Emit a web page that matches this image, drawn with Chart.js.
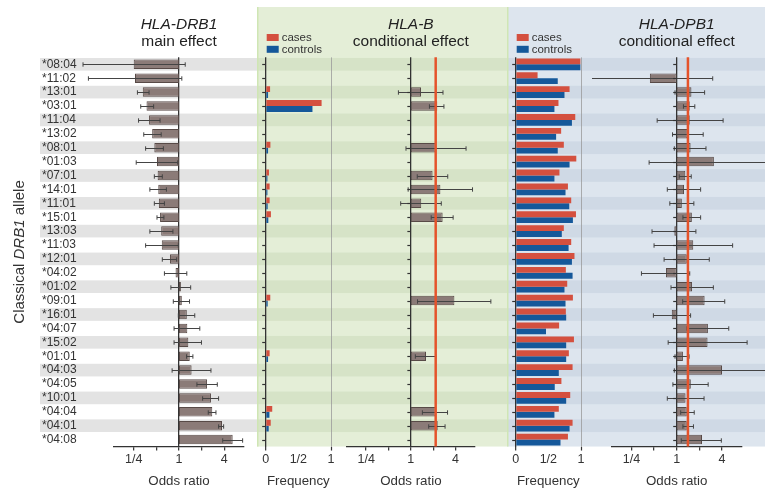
<!DOCTYPE html>
<html>
<head>
<meta charset="utf-8">
<script src="https://cdn.jsdelivr.net/npm/chart.js@4.4.1/dist/chart.umd.min.js"></script>
<style>
  html, body { margin: 0; padding: 0; background: #fff; }
  #wrap { position: relative; width: 765px; height: 491px; overflow: hidden; }
  #wrap canvas { position: absolute; top: 0; }
</style>
</head>
<body>
<div id="wrap">
  <canvas id="drb1" width="257" height="491" style="left:0"></canvas>
  <canvas id="bFreq" width="81" height="491" style="left:257px"></canvas>
  <canvas id="bOdds" width="169" height="491" style="left:338px"></canvas>
  <canvas id="dpFreq" width="85" height="491" style="left:507px"></canvas>
  <canvas id="dpOdds" width="173" height="491" style="left:592px"></canvas>
</div>
<script>
const alleles = ['*08:04', '*11:02', '*13:01', '*03:01', '*11:04', '*13:02', '*08:01', '*01:03', '*07:01', '*14:01',
  '*11:01', '*15:01', '*13:03', '*11:03', '*12:01', '*04:02', '*01:02', '*09:01', '*16:01', '*04:07',
  '*15:02', '*01:01', '*04:03', '*04:05', '*10:01', '*04:04', '*04:01', '*04:08'];

// HLA-DRB1 main effect: odds ratio with 95% CI
const drb1OR = [0.25, 0.26, 0.33, 0.37, 0.40, 0.44, 0.47, 0.51, 0.52, 0.53, 0.54, 0.56, 0.58, 0.59,
  0.76, 0.90, 1.06, 1.09, 1.27, 1.29, 1.33, 1.39, 1.47, 2.36, 2.66, 2.77, 3.73, 5.17];
const drb1Lo = [0.053, 0.0625, 0.28, 0.31, 0.29, 0.34, 0.36, 0.27, 0.47, 0.41, 0.47, 0.51, 0.41, 0.36,
  0.60, 0.64, 0.78, 0.84, 0.98, 0.86, 0.86, 1.26, 0.81, 1.73, 2.06, 2.45, 3.36, 3.81];
const drb1Hi = [1.21, 1.09, 0.40, 0.46, 0.56, 0.58, 0.62, 0.96, 0.60, 0.68, 0.64, 0.63, 0.83, 0.98,
  0.93, 1.27, 1.43, 1.38, 1.62, 1.89, 1.99, 1.53, 2.66, 3.23, 3.36, 3.10, 3.92, 7.01];

// HLA-B: frequency in cases / controls and conditional odds ratio
const bCases = [null, null, 0.067, 0.856, null, null, 0.072, null, 0.05, 0.06, 0.06, 0.08, null, null,
  null, null, null, 0.07, null, null, null, 0.06, null, null, null, 0.10, 0.077, null];
const bControls = [null, null, 0.036, 0.716, null, null, 0.036, null, 0.026, 0.026, 0.03, 0.04, null, null,
  null, null, null, 0.03, null, null, null, 0.036, null, null, null, 0.057, 0.046, null];
const bOR = [null, null, 1.37, 2.27, null, null, 2.16, null, 1.96, 2.50, 1.38, 2.68, null, null,
  null, null, null, 3.86, null, null, null, 1.60, null, null, null, 2.16, 2.30, null];
const bLo = [null, null, 0.68, 1.78, null, null, 0.86, null, 1.22, 0.92, 0.73, 1.88, null, null,
  null, null, null, 1.23, null, null, null, 1.15, null, null, null, 1.43, 1.74, null];
const bHi = [null, null, 2.71, 2.79, null, null, 5.54, null, 3.14, 6.77, 2.57, 3.71, null, null,
  null, null, null, 11.96, null, null, null, 2.17, null, null, null, 3.12, 2.89, null];
const bRefOR = 2.16;

// HLA-DPB1: frequency in cases / controls and conditional odds ratio
const dpCases = [0.99, 0.335, 0.825, 0.655, 0.912, 0.696, 0.737, 0.928, 0.67, 0.80, 0.85, 0.923, 0.737, 0.85,
  0.90, 0.768, 0.789, 0.876, 0.768, 0.665, 0.892, 0.814, 0.871, 0.70, 0.835, 0.66, 0.871, 0.80];
const dpControls = [0.99, 0.644, 0.747, 0.593, 0.861, 0.619, 0.644, 0.825, 0.593, 0.763, 0.82, 0.876, 0.706, 0.81,
  0.861, 0.871, 0.747, 0.763, 0.773, 0.464, 0.773, 0.773, 0.66, 0.598, 0.773, 0.593, 0.825, 0.686];
const dpOR = [null, 0.44, 1.57, 1.49, 1.49, 1.39, 1.53, 3.12, 1.30, 1.25, 1.17, 1.59, 0.93, 1.66,
  1.36, 0.72, 1.60, 2.35, 0.86, 2.60, 2.57, 1.21, 4.00, 1.54, 1.31, 1.36, 1.36, 2.17];
const dpLo = [null, 0.064, 0.95, 1.23, 0.55, 0.88, 0.93, 0.43, 1.08, 0.75, 0.81, 1.21, 0.47, 0.50,
  0.68, 0.34, 0.84, 1.20, 0.49, 1.37, 0.77, 0.95, 0.93, 0.89, 0.75, 1.13, 1.21, 1.15];
const dpHi = [null, 3.01, 2.35, 1.74, 4.14, 2.25, 2.45, 20, 1.56, 2.08, 1.69, 2.08, 1.80, 5.54,
  2.71, 1.49, 3.07, 4.35, 1.53, 4.92, 8.63, 1.46, 20, 2.62, 2.31, 1.71, 1.67, 3.92];
const dpRefOR = 1.41;

const orTicks = [0.25, 0.5, 1, 2, 4];
const orTickLabels = ['1/4', '', '1', '', '4'];
const freqTicks = [0, 0.5, 1];
const freqTickLabels = ['0', '1/2', '1'];

const FONT = "'Liberation Sans', Arial, Helvetica, sans-serif";
const INK = '#333';
const CASE_COLOR = '#d4503f';
const CONTROL_COLOR = '#15589a';
const BAR_FILL = '#8b7b78';
const BAR_EDGE = '#584a47';
const REF_COLOR = '#e5532b';

Chart.defaults.font.family = FONT;
Chart.defaults.color = INK;

const PAD_TOP = 57.35;
const AXIS_H = 491 - 446.55;

const panelDecor = {
  id: 'panelDecor',
  beforeDraw(chart, args, o) {
    const { ctx, chartArea } = chart;
    const y = chart.scales.y;
    const w = chart.width;
    ctx.save();
    if (o.bg) {
      ctx.fillStyle = o.bg;
      ctx.fillRect(0, 7, w, chartArea.bottom - 7);
    }
    const step = y.getPixelForValue(1) - y.getPixelForValue(0);
    ctx.fillStyle = o.stripe;
    alleles.forEach((a, i) => {
      if (i % 2) return;
      const yc = y.getPixelForValue(i);
      ctx.fillRect(o.stripeLeft || 0, yc - step * 0.455, w, step * 0.91);
    });
    if (o.edgeLeft) {
      ctx.fillStyle = o.edgeLeft;
      ctx.fillRect(0, 7, 1.5, chartArea.bottom - 7);
    }
    ctx.restore();
  },
  afterDatasetsDraw(chart, args, o) {
    const { ctx, chartArea } = chart;
    const x = chart.scales.x;
    const y = chart.scales.y;
    ctx.save();

    // error bars
    if (o.lo && o.hi) {
      ctx.strokeStyle = '#444';
      ctx.lineWidth = 1;
      o.lo.forEach((lo, i) => {
        const hi = o.hi[i];
        if (lo == null || hi == null) return;
        const yc = Math.round(y.getPixelForValue(i)) + 0.5;
        const x1 = x.getPixelForValue(lo);
        const x2 = x.getPixelForValue(hi);
        ctx.beginPath();
        ctx.moveTo(x1, yc); ctx.lineTo(x2, yc);
        ctx.moveTo(x1, yc - 2.2); ctx.lineTo(x1, yc + 2.2);
        ctx.moveTo(x2, yc - 2.2); ctx.lineTo(x2, yc + 2.2);
        ctx.stroke();
      });
    }

    // row ticks on the base line
    if (o.rowTicks) {
      const bx = x.getPixelForValue(o.base);
      ctx.strokeStyle = INK;
      ctx.lineWidth = 1.2;
      alleles.forEach((a, i) => {
        const yc = Math.round(y.getPixelForValue(i)) + 0.5;
        ctx.beginPath();
        ctx.moveTo(bx - 3.5, yc); ctx.lineTo(bx, yc);
        ctx.stroke();
      });
    }

    // reference odds ratio
    if (o.ref != null) {
      const rx = x.getPixelForValue(o.ref);
      ctx.strokeStyle = REF_COLOR;
      ctx.lineWidth = 2.5;
      ctx.beginPath();
      ctx.moveTo(rx, chartArea.top); ctx.lineTo(rx, chartArea.bottom);
      ctx.stroke();
    }

    // legend
    if (o.legend) {
      ctx.font = '11.5px ' + FONT;
      ctx.textBaseline = 'middle';
      ctx.textAlign = 'left';
      chart.data.datasets.forEach((ds, k) => {
        const ly = 34 + k * 11.8;
        ctx.fillStyle = ds.backgroundColor;
        ctx.fillRect(chartArea.left + 1, ly, 12, 7);
        ctx.fillStyle = INK;
        ctx.fillText(ds.label, chartArea.left + 16, ly + 3.6);
      });
    }

    // panel titles
    if (o.title) {
      const tx = x.getPixelForValue(o.titleAt);
      ctx.fillStyle = '#222';
      ctx.textAlign = 'center';
      ctx.textBaseline = 'middle';
      ctx.font = 'italic 15.5px ' + FONT;
      ctx.fillText(o.title, tx, 25);
      ctx.font = '15.5px ' + FONT;
      ctx.fillText(o.subtitle, tx, 42);
    }

    // y axis title with italic gene name
    if (o.yTitle) {
      const parts = o.yTitle;
      ctx.translate(20, (chartArea.top + chartArea.bottom) / 2);
      ctx.rotate(-Math.PI / 2);
      ctx.textBaseline = 'middle';
      ctx.textAlign = 'left';
      const fonts = parts.map(p => (p.italic ? 'italic ' : '') + '15px ' + FONT);
      let total = 0;
      parts.forEach((p, k) => { ctx.font = fonts[k]; total += ctx.measureText(p.text).width; });
      let cx = -total / 2;
      ctx.fillStyle = INK;
      parts.forEach((p, k) => {
        ctx.font = fonts[k];
        ctx.fillText(p.text, cx, 0);
        cx += ctx.measureText(p.text).width;
      });
    }
    ctx.restore();
  }
};

function oddsAxis() {
  return {
    type: 'logarithmic',
    min: Math.pow(2, -2.87),
    max: Math.pow(2, 2.87),
    afterBuildTicks: s => { s.ticks = orTicks.map(v => ({ value: v })); },
    afterFit: s => { s.height = AXIS_H; },
    ticks: {
      autoSkip: false,
      maxRotation: 0,
      padding: 1,
      font: { size: 12.5 },
      color: INK,
      callback: (v, i) => orTickLabels[i]
    },
    grid: {
      drawOnChartArea: true,
      color: c => (c.tick && c.tick.value === 1 ? INK : 'rgba(0,0,0,0)'),
      lineWidth: 1.3,
      tickColor: INK,
      tickLength: 4,
      tickWidth: 1.2
    },
    border: { display: true, color: INK, width: 1.3 },
    title: { display: true, text: 'Odds ratio', font: { size: 13.3 }, color: INK, padding: { top: 0, bottom: 2 } }
  };
}

function freqAxis() {
  return {
    type: 'linear',
    min: 0,
    max: 1,
    afterBuildTicks: s => { s.ticks = freqTicks.map(v => ({ value: v })); },
    afterFit: s => { s.height = AXIS_H; },
    ticks: {
      autoSkip: false,
      maxRotation: 0,
      padding: 1,
      font: { size: 12.5 },
      color: INK,
      callback: (v, i) => freqTickLabels[i]
    },
    grid: {
      drawOnChartArea: true,
      color: c => (c.tick && c.tick.value === 0 ? INK : (c.tick && c.tick.value === 1 ? '#9a9a9a' : 'rgba(0,0,0,0)')),
      lineWidth: c => (c.tick && c.tick.value === 0 ? 1.3 : 0.8),
      tickColor: c => (c.tick && c.tick.value === 0.5 ? 'rgba(0,0,0,0)' : INK),
      tickLength: 4,
      tickWidth: 1.2
    },
    border: { display: false },
    title: { display: true, text: 'Frequency', font: { size: 13.3 }, color: INK, padding: { top: 0, bottom: 2 } }
  };
}

function hiddenRows() {
  return { type: 'category', display: false, offset: true, grid: { offset: false } };
}

// Panel 1: HLA-DRB1 main effect
new Chart(document.getElementById('drb1'), {
  type: 'bar',
  data: {
    labels: alleles,
    datasets: [{
      label: 'HLA-DRB1 odds ratio',
      data: drb1OR.map(v => [1, v]),
      backgroundColor: BAR_FILL,
      borderColor: BAR_EDGE,
      borderWidth: 1,
      borderSkipped: false,
      barPercentage: 0.68,
      categoryPercentage: 1
    }]
  },
  options: {
    indexAxis: 'y',
    responsive: false,
    animation: false,
    layout: { padding: { left: 42, right: 13, top: PAD_TOP, bottom: 0 } },
    scales: {
      x: oddsAxis(),
      y: {
        type: 'category',
        offset: true,
        afterFit: s => { s.width = 72; },
        grid: { display: false },
        border: { display: false },
        ticks: { crossAlign: 'far', padding: 0, font: { size: 12 }, color: INK, autoSkip: false }
      }
    },
    plugins: {
      legend: { display: false },
      tooltip: { enabled: false },
      panelDecor: {
        stripe: '#e3e3e3',
        stripeLeft: 40,
        lo: drb1Lo,
        hi: drb1Hi,
        title: 'HLA-DRB1',
        subtitle: 'main effect',
        titleAt: 1,
        yTitle: [{ text: 'Classical ' }, { text: 'DRB1', italic: true }, { text: ' allele' }]
      }
    }
  },
  plugins: [panelDecor]
});

// Panel 2: HLA-B frequency
new Chart(document.getElementById('bFreq'), {
  type: 'bar',
  data: {
    labels: alleles,
    datasets: [
      { label: 'cases', data: bCases, backgroundColor: CASE_COLOR, barPercentage: 1, categoryPercentage: 0.85 },
      { label: 'controls', data: bControls, backgroundColor: CONTROL_COLOR, barPercentage: 1, categoryPercentage: 0.85 }
    ]
  },
  options: {
    indexAxis: 'y',
    responsive: false,
    animation: false,
    layout: { padding: { left: 8.7, right: 7, top: PAD_TOP, bottom: 0 } },
    scales: { x: freqAxis(), y: hiddenRows() },
    plugins: {
      legend: { display: false },
      tooltip: { enabled: false },
      panelDecor: { bg: '#e4eed7', stripe: '#d6e3c7', edgeLeft: '#cfe6b4', rowTicks: true, base: 0, legend: true }
    }
  },
  plugins: [panelDecor]
});

// Panel 3: HLA-B conditional effect
new Chart(document.getElementById('bOdds'), {
  type: 'bar',
  data: {
    labels: alleles,
    datasets: [{
      label: 'HLA-B odds ratio',
      data: bOR.map(v => (v == null ? null : [1, v])),
      backgroundColor: BAR_FILL,
      borderColor: BAR_EDGE,
      borderWidth: 1,
      borderSkipped: false,
      barPercentage: 0.68,
      categoryPercentage: 1
    }]
  },
  options: {
    indexAxis: 'y',
    responsive: false,
    animation: false,
    layout: { padding: { left: 8.7, right: 32, top: PAD_TOP, bottom: 0 } },
    scales: { x: oddsAxis(), y: hiddenRows() },
    plugins: {
      legend: { display: false },
      tooltip: { enabled: false },
      panelDecor: {
        bg: '#e4eed7', stripe: '#d6e3c7', rowTicks: true, base: 1,
        lo: bLo, hi: bHi, ref: bRefOR,
        title: 'HLA-B', subtitle: 'conditional effect', titleAt: 1
      }
    }
  },
  plugins: [panelDecor]
});

// Panel 4: HLA-DPB1 frequency
new Chart(document.getElementById('dpFreq'), {
  type: 'bar',
  data: {
    labels: alleles,
    datasets: [
      { label: 'cases', data: dpCases, backgroundColor: CASE_COLOR, barPercentage: 1, categoryPercentage: 0.85 },
      { label: 'controls', data: dpControls, backgroundColor: CONTROL_COLOR, barPercentage: 1, categoryPercentage: 0.85 }
    ]
  },
  options: {
    indexAxis: 'y',
    responsive: false,
    animation: false,
    layout: { padding: { left: 8.7, right: 11, top: PAD_TOP, bottom: 0 } },
    scales: { x: freqAxis(), y: hiddenRows() },
    plugins: {
      legend: { display: false },
      tooltip: { enabled: false },
      panelDecor: { bg: '#dde5ee', stripe: '#cfd9e5', edgeLeft: '#cfe6b4', rowTicks: true, base: 0, legend: true }
    }
  },
  plugins: [panelDecor]
});

// Panel 5: HLA-DPB1 conditional effect
new Chart(document.getElementById('dpOdds'), {
  type: 'bar',
  data: {
    labels: alleles,
    datasets: [{
      label: 'HLA-DPB1 odds ratio',
      data: dpOR.map(v => (v == null ? null : [1, v])),
      backgroundColor: BAR_FILL,
      borderColor: BAR_EDGE,
      borderWidth: 1,
      borderSkipped: false,
      barPercentage: 0.68,
      categoryPercentage: 1
    }]
  },
  options: {
    indexAxis: 'y',
    responsive: false,
    animation: false,
    layout: { padding: { left: 19.7, right: 23.3, top: PAD_TOP, bottom: 0 } },
    scales: { x: oddsAxis(), y: hiddenRows() },
    plugins: {
      legend: { display: false },
      tooltip: { enabled: false },
      panelDecor: {
        bg: '#dde5ee', stripe: '#cfd9e5', rowTicks: true, base: 1,
        lo: dpLo, hi: dpHi, ref: dpRefOR,
        title: 'HLA-DPB1', subtitle: 'conditional effect', titleAt: 1
      }
    }
  },
  plugins: [panelDecor]
});
</script>
</body>
</html>
